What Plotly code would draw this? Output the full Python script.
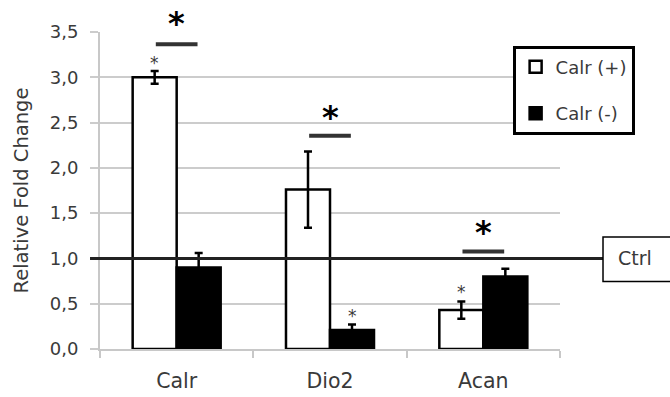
import plotly.graph_objects as go

categories = ["Calr", "Dio2", "Acan"]
calr_pos = [3.00, 1.76, 0.43]
calr_pos_err = [0.07, 0.42, 0.095]
calr_neg = [0.90, 0.21, 0.80]
calr_neg_err = [0.16, 0.06, 0.085]
series_names = ["Calr (+)", "Calr (-)"]
y_ticks = [0, 0.5, 1.0, 1.5, 2.0, 2.5, 3.0, 3.5]
y_tick_labels = ["0,0", "0,5", "1,0", "1,5", "2,0", "2,5", "3,0", "3,5"]
ctrl_level = 1.0
sig_bar_y = [3.366, 2.354, 1.077]
sig_star_y = [3.67, 2.63, 1.36]
small_star_series = [0, 1, 0]   # 0 -> Calr (+) bar, 1 -> Calr (-) bar
small_star_y = [3.19, 0.40, 0.666]

FONT = "DejaVu Sans"
TXT = "#3a3a3a"
Y_MAX = 3.5

fig = go.Figure()
fig.add_trace(go.Bar(
    x=categories, y=calr_pos, name=series_names[0], legendgroup="a",
    marker=dict(color="white", line=dict(color="black", width=2.5)),
    error_y=dict(type="data", array=calr_pos_err, color="black", thickness=2.5, width=4),
))
fig.add_trace(go.Bar(
    x=categories, y=calr_neg, name=series_names[1], legendgroup="b",
    marker=dict(color="black", line=dict(color="black", width=2.5)),
    error_y=dict(type="data", array=calr_neg_err, color="black", thickness=2.5, width=4),
))

bar_w = (1 - 0.426) / 2
shapes = []
annotations = []
for i, c in enumerate(categories):
    shapes.append(dict(type="line", xref="x", yref="y", x0=i - 0.136, x1=i + 0.136,
                       y0=sig_bar_y[i], y1=sig_bar_y[i], line=dict(color="#333333", width=4),
                       layer="above"))
    annotations.append(dict(x=i, y=sig_star_y[i] / Y_MAX, xref="x", yref="paper", text="<b>*</b>",
                            showarrow=False, font=dict(family="DejaVu Sans", size=32, color="black"),
                            xanchor="center", yanchor="middle", yshift=-6))
    off = (-0.5 if small_star_series[i] == 0 else 0.5) * bar_w
    annotations.append(dict(x=i + off, y=small_star_y[i], xref="x", yref="y", text="*",
                            showarrow=False, font=dict(family="DejaVu Sans", size=17, color=TXT),
                            xanchor="center", yanchor="middle", yshift=-3))

# Ctrl reference line and label
shapes.append(dict(type="line", xref="paper", yref="y", x0=-0.0217, x1=1.0935,
                   y0=ctrl_level, y1=ctrl_level, line=dict(color="#222222", width=3), layer="above"))
shapes.append(dict(type="rect", xref="paper", yref="y", x0=1.0935, x1=1.26,
                   y0=0.746, y1=1.236, line=dict(color="black", width=1.5), fillcolor="white",
                   layer="above"))
annotations.append(dict(x=1.1635, y=ctrl_level, xref="paper", yref="y", text="Ctrl",
                        showarrow=False, xanchor="center", yanchor="middle",
                        font=dict(family=FONT, size=19, color=TXT)))

fig.update_layout(
    width=670, height=397,
    margin=dict(l=100, r=110, t=32, b=48, autoexpand=False),
    paper_bgcolor="white", plot_bgcolor="white",
    barmode="group", bargap=0.426, bargroupgap=0,
    font=dict(family=FONT, size=18, color=TXT),
    shapes=shapes, annotations=annotations,
    showlegend=True,
    legend=dict(x=0.897, y=0.957, xanchor="left", yanchor="top",
                bgcolor="white", bordercolor="black", borderwidth=3,
                font=dict(family=FONT, size=18, color=TXT), tracegroupgap=20,
                itemwidth=30),
    xaxis=dict(showline=True, linecolor="#c8c8c8", linewidth=2, automargin=False,
               ticks="outside", tickson="boundaries", ticklen=7, tickcolor="#c8c8c8",
               tickwidth=2, ticklabelstandoff=12,
               tickfont=dict(size=20.5, family=FONT, color=TXT)),
    yaxis=dict(range=[0, Y_MAX], tickvals=y_ticks, ticktext=y_tick_labels, automargin=False,
               showgrid=True, gridcolor="#cccccc", gridwidth=1.5,
               showline=True, linecolor="#c8c8c8", linewidth=2,
               ticks="outside", ticklen=8, tickcolor="#cccccc", tickwidth=1.5,
               ticklabelstandoff=8,
               tickfont=dict(size=18, family=FONT, color=TXT), zeroline=False,
               title=dict(text="Relative Fold Change", font=dict(size=19.5, family=FONT, color=TXT),
                          standoff=16)),
)

fig.write_html("out.html")
